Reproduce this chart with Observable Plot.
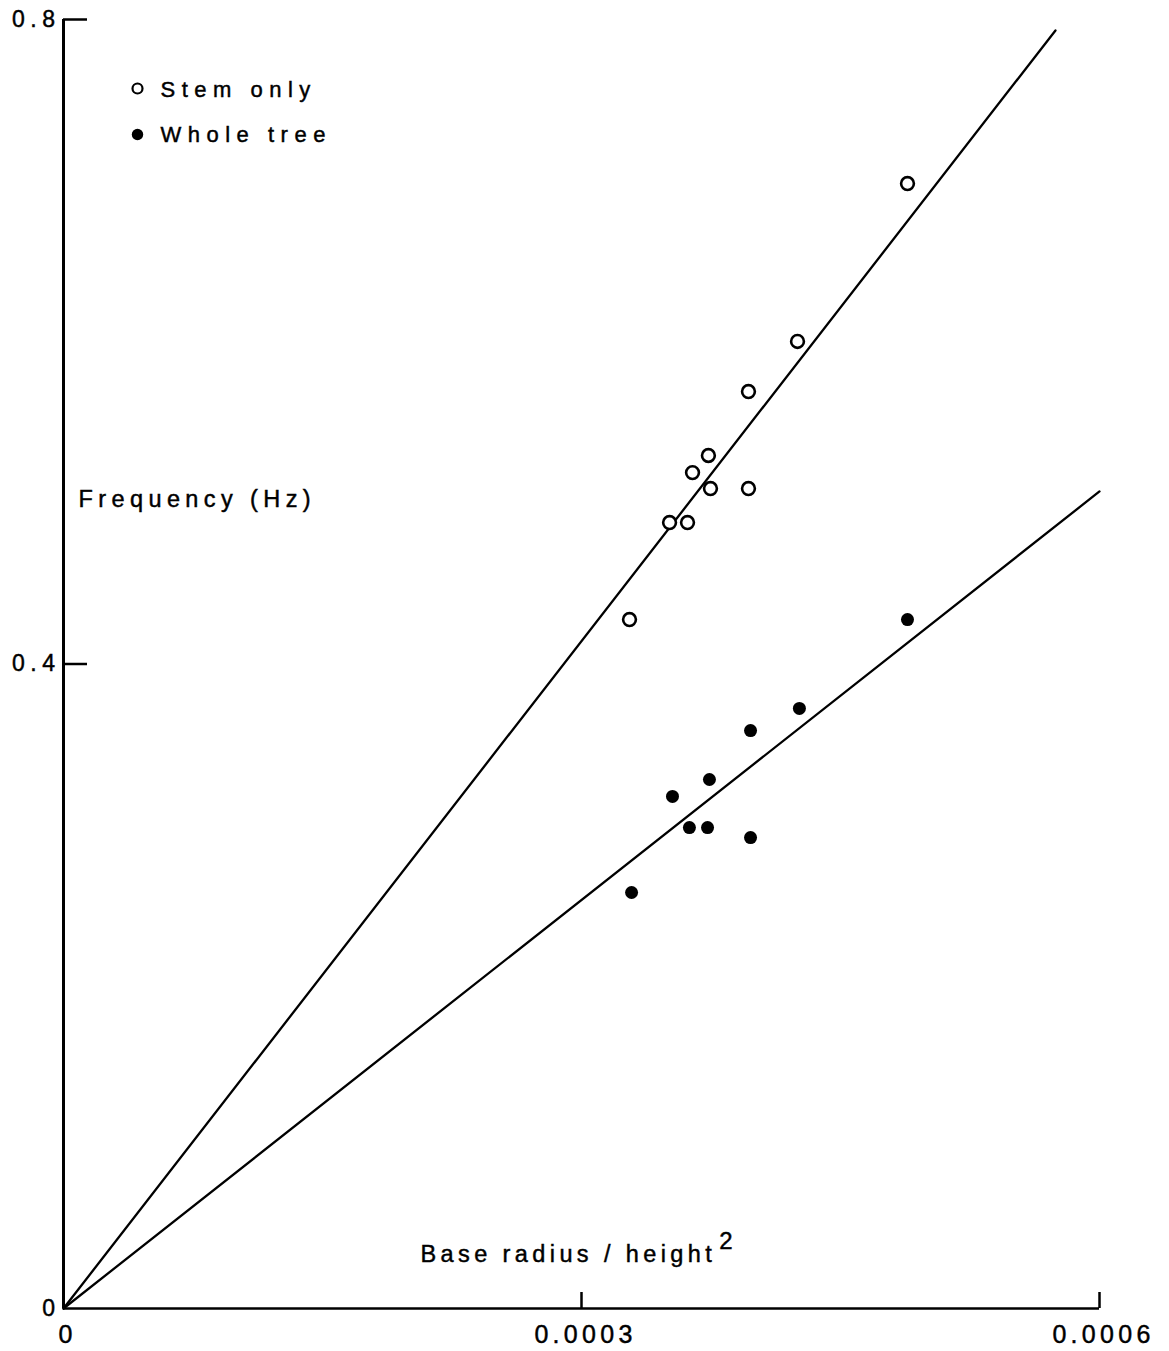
<!DOCTYPE html>
<html>
<head>
<meta charset="utf-8">
<script src="https://cdn.jsdelivr.net/npm/d3@7"></script>
<script src="https://cdn.jsdelivr.net/npm/@observablehq/plot@0.6"></script>
<style>
  html, body { margin: 0; padding: 0; background: #fff; }
  svg text { fill: #000; stroke: #000; stroke-width: 0.45px; }
  g[aria-label="y-axis tick label"] text { letter-spacing: 5.5px; font-size: 23px; }
  g[aria-label="x-axis tick label"] text { letter-spacing: 4.3px; font-size: 25px; }
</style>
</head>
<body>
<div id="chart"></div>
<script>
// ---- Data ----
const stemX = [0.0003278, 0.0003510, 0.0003614, 0.0003643, 0.0003735, 0.0003747, 0.0003967, 0.0003967, 0.0004251, 0.0004888];
const stemY = [0.4276, 0.4878, 0.4878, 0.5188, 0.5294, 0.5089, 0.5691, 0.5089, 0.6002, 0.6982];

const wholeX = [0.0003290, 0.0003527, 0.0003625, 0.0003730, 0.0003741, 0.0003979, 0.0003979, 0.0004262, 0.0004888];
const wholeY = [0.2582, 0.3178, 0.2985, 0.2985, 0.3283, 0.3587, 0.2923, 0.3724, 0.4276];

// fitted lines through the origin
const stemFitX = [0, 0.0005745];
const stemFitY = [0, 0.7932];
const wholeFitX = [0, 0.0006];
const wholeFitY = [0, 0.5071];

const xTicks = [0, 0.0003, 0.0006];
const xTickLabels = ["0", "0.0003", "0.0006"];
const yTicks = [0, 0.4, 0.8];
const yTickLabels = ["0", "0.4", "0.8"];
const xTickMarks = [0.0003, 0.0006];
const yTickMarks = [0.4, 0.8];

const legendLabels = ["Stem only", "Whole tree"];
const yLabel = "Frequency (Hz)";
const xLabel = "Base radius / height";
const xLabelExponent = "2";

// ---- Build tables ----
const stem = stemX.map((x, i) => ({x, y: stemY[i]}));
const whole = wholeX.map((x, i) => ({x, y: wholeY[i]}));
const stemFit = stemFitX.map((x, i) => ({x, y: stemFitY[i]}));
const wholeFit = wholeFitX.map((x, i) => ({x, y: wholeFitY[i]}));

const font = "'Liberation Sans', Arial, Helvetica, sans-serif";

const chart = Plot.plot({
  width: 1169,
  height: 1351,
  marginLeft: 63,
  marginRight: 70,
  marginTop: 19,
  marginBottom: 43,
  style: {fontFamily: font, fontSize: "23px", background: "#fff", color: "#000"},
  x: {domain: [0, 0.0006], label: null},
  y: {domain: [0, 0.8], label: null},
  marks: [
    // axis lines
    Plot.ruleX([0], {y1: 0, y2: 0.8, stroke: "#000", strokeWidth: 3}),
    Plot.ruleY([0], {stroke: "#000", strokeWidth: 2.6}),
    // inward ticks
    Plot.ruleY(yTickMarks, {y: d => d, x1: 0, x2: 0, insetRight: -24, stroke: "#000", strokeWidth: 2.5}),
    Plot.ruleX(xTickMarks, {x: d => d, y1: 0, y2: 0, insetTop: -16, stroke: "#000", strokeWidth: 2.5}),
    // tick labels
    Plot.axisY({ticks: yTicks, tickSize: 0, tickPadding: 3, tickFormat: d => yTickLabels[yTicks.indexOf(d)], label: null}),
    Plot.axisX({ticks: xTicks, tickSize: 0, tickPadding: 17, dx: 4, tickFormat: d => xTickLabels[xTicks.indexOf(d)], label: null}),
    // fitted lines
    Plot.line(stemFit, {x: "x", y: "y", stroke: "#000", strokeWidth: 2.3}),
    Plot.line(wholeFit, {x: "x", y: "y", stroke: "#000", strokeWidth: 2.3}),
    // data points
    Plot.dot(stem, {x: "x", y: "y", r: 6.4, stroke: "#000", strokeWidth: 2.6, fill: "#fff"}),
    Plot.dot(whole, {x: "x", y: "y", r: 6.5, fill: "#000", stroke: "none"}),
    // legend
    Plot.dot([legendLabels[0]], {frameAnchor: "top-left", dx: 74, dy: 69, r: 5, stroke: "#000", strokeWidth: 2.2, fill: "#fff"}),
    Plot.dot([legendLabels[1]], {frameAnchor: "top-left", dx: 74, dy: 115, r: 5.7, fill: "#000", stroke: "none"}),
    Plot.text([legendLabels[0]], {text: d => d, frameAnchor: "top-left", dx: 97, dy: 70, textAnchor: "start", lineAnchor: "middle", fontSize: 22, fill: "#000"}),
    Plot.text([legendLabels[1]], {text: d => d, frameAnchor: "top-left", dx: 97, dy: 115, textAnchor: "start", lineAnchor: "middle", fontSize: 22, fill: "#000"}),
    // axis titles
    Plot.text([yLabel], {text: d => d, frameAnchor: "top-left", dx: 15, dy: 480, textAnchor: "start", lineAnchor: "middle", fontSize: 23.5, fill: "#000"}),
    Plot.text([xLabel], {text: d => d, frameAnchor: "bottom-left", dx: 357, dy: -54, textAnchor: "start", lineAnchor: "middle", fontSize: 23.5, fill: "#000"})
  ]
});

// letter spacing of the printed labels, and the superscript exponent
const spacing = new Map([
  [legendLabels[0], 6.5], [legendLabels[1], 6.5],
  [yLabel, 5.4], [xLabel, 4.4]
]);
d3.select(chart).selectAll("text").each(function () {
  const t = this.textContent;
  if (spacing.has(t)) {
    this.style.letterSpacing = spacing.get(t) + "px";
    if (t === xLabel) {
      d3.select(this).append("tspan")
        .attr("dx", 3)
        .attr("dy", -13)
        .attr("font-size", 24)
        .text(xLabelExponent);
    }
  }
});

document.getElementById("chart").appendChild(chart);
</script>
</body>
</html>
